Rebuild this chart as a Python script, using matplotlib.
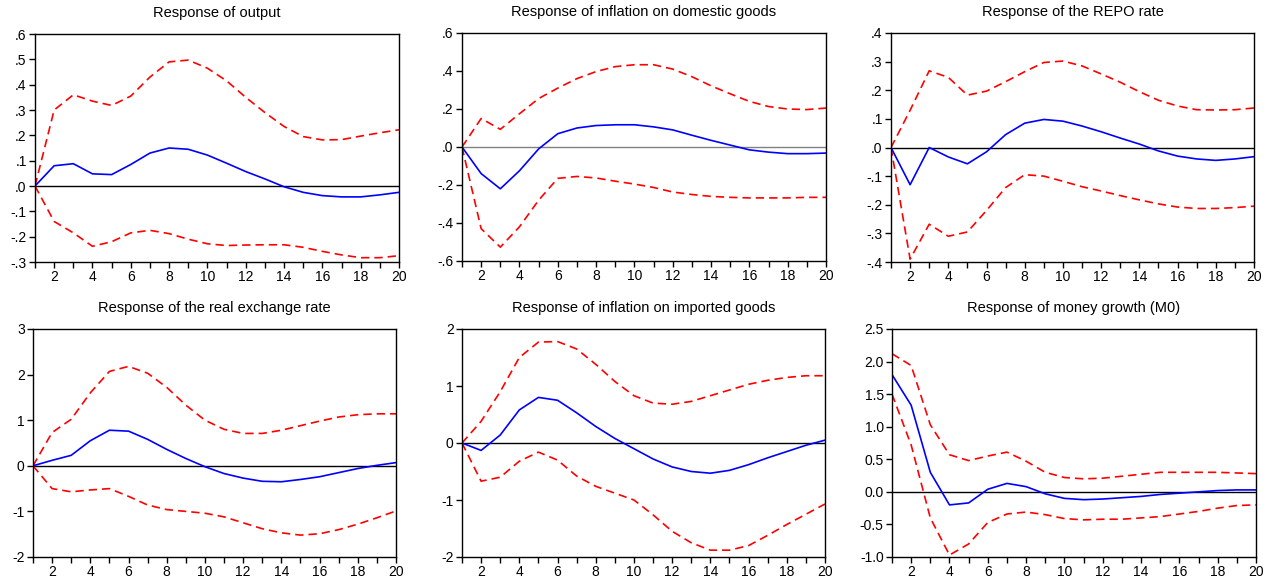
import matplotlib
matplotlib.use('Agg')
import matplotlib.pyplot as plt
from matplotlib.ticker import FuncFormatter, MultipleLocator

plt.rcParams['font.family'] = ['Liberation Sans', 'DejaVu Sans']

periods = list(range(1, 21))

# response of output
out_mid = [0, 0.08, 0.088, 0.048, 0.045, 0.085, 0.13, 0.15, 0.145, 0.122,
           0.09, 0.057, 0.028, -0.003, -0.025, -0.038, -0.043, -0.043, -0.035, -0.025]
out_hi = [0, 0.30, 0.36, 0.335, 0.318, 0.355, 0.43, 0.49, 0.497, 0.465,
          0.415, 0.35, 0.29, 0.235, 0.195, 0.182, 0.183, 0.197, 0.21, 0.222]
out_lo = [0, -0.14, -0.185, -0.238, -0.22, -0.185, -0.175, -0.188, -0.21, -0.228,
          -0.235, -0.233, -0.232, -0.232, -0.242, -0.258, -0.272, -0.283, -0.283, -0.275]

# response of inflation on domestic goods
dom_mid = [0, -0.14, -0.22, -0.125, -0.01, 0.07, 0.1, 0.113, 0.117, 0.117,
           0.106, 0.09, 0.062, 0.035, 0.01, -0.015, -0.027, -0.035, -0.035, -0.032]
dom_hi = [0, 0.15, 0.093, 0.175, 0.255, 0.31, 0.36, 0.397, 0.423, 0.433,
          0.433, 0.41, 0.37, 0.322, 0.28, 0.24, 0.213, 0.2, 0.197, 0.205]
dom_lo = [0, -0.43, -0.527, -0.42, -0.28, -0.165, -0.155, -0.163, -0.18, -0.195,
          -0.213, -0.237, -0.25, -0.26, -0.265, -0.268, -0.268, -0.268, -0.265, -0.265]

# response of the REPO rate
repo_mid = [0, -0.13, 0.0, -0.033, -0.057, -0.015, 0.045, 0.085, 0.098, 0.092,
            0.075, 0.055, 0.033, 0.012, -0.012, -0.03, -0.04, -0.045, -0.04, -0.032]
repo_hi = [0, 0.13, 0.268, 0.245, 0.183, 0.197, 0.23, 0.265, 0.297, 0.302,
           0.285, 0.257, 0.228, 0.195, 0.165, 0.145, 0.132, 0.131, 0.132, 0.138]
repo_lo = [0, -0.39, -0.268, -0.31, -0.295, -0.22, -0.14, -0.095, -0.1, -0.118,
           -0.137, -0.152, -0.168, -0.183, -0.197, -0.208, -0.213, -0.213, -0.21, -0.205]

# response of the real exchange rate
rer_mid = [0, 0.12, 0.23, 0.55, 0.78, 0.76, 0.58, 0.36, 0.16, -0.02,
           -0.17, -0.27, -0.34, -0.35, -0.3, -0.24, -0.15, -0.06, 0.01, 0.07]
rer_hi = [0, 0.73, 1.02, 1.6, 2.07, 2.18, 2.03, 1.72, 1.33, 1.0,
          0.8, 0.71, 0.71, 0.78, 0.88, 0.98, 1.07, 1.12, 1.14, 1.14]
rer_lo = [0, -0.5, -0.57, -0.53, -0.5, -0.67, -0.86, -0.96, -1.0, -1.04,
          -1.12, -1.25, -1.38, -1.47, -1.52, -1.49, -1.4, -1.28, -1.14, -0.99]

# response of inflation on imported goods
imp_mid = [0, -0.13, 0.14, 0.58, 0.8, 0.75, 0.53, 0.29, 0.08, -0.1,
           -0.28, -0.42, -0.5, -0.53, -0.48, -0.38, -0.26, -0.15, -0.04, 0.05]
imp_hi = [0, 0.38, 0.9, 1.5, 1.77, 1.78, 1.65, 1.38, 1.08, 0.83,
          0.7, 0.68, 0.73, 0.83, 0.93, 1.03, 1.1, 1.15, 1.18, 1.18]
imp_lo = [0, -0.67, -0.6, -0.32, -0.16, -0.3, -0.58, -0.76, -0.88, -1.0,
          -1.26, -1.55, -1.75, -1.88, -1.88, -1.8, -1.62, -1.43, -1.25, -1.07]

# response of money growth (M0)
m0_mid = [1.8, 1.33, 0.3, -0.2, -0.17, 0.04, 0.13, 0.08, -0.03, -0.1,
          -0.12, -0.11, -0.09, -0.07, -0.04, -0.02, 0.0, 0.02, 0.03, 0.03]
m0_hi = [2.12, 1.94, 1.03, 0.57, 0.48, 0.55, 0.61, 0.47, 0.3, 0.22,
         0.2, 0.21, 0.24, 0.27, 0.3, 0.3, 0.3, 0.3, 0.29, 0.28]
m0_lo = [1.5, 0.72, -0.4, -0.97, -0.8, -0.47, -0.34, -0.31, -0.35, -0.41,
         -0.43, -0.42, -0.42, -0.4, -0.38, -0.34, -0.3, -0.25, -0.21, -0.2]


def eviews_fmt(v, pos):
    # eviews style: .6, .0, -.2
    s = '%.1f' % v
    if s == '-0.0':
        s = '0.0'
    return s.replace('0.', '.', 1) if s.startswith(('0.', '-0.')) else s


W, H = 1277, 581
fig = plt.figure(figsize=(W / 100, H / 100), dpi=100)

# (title, mid, hi, lo, ylim, ystep, formatter, pixel box l, t, r, b)
panels = [
    ('Response of output', out_mid, out_hi, out_lo, (-0.3, 0.6), 0.1, FuncFormatter(eviews_fmt), (35, 34, 399, 262)),
    ('Response of inflation on domestic goods', dom_mid, dom_hi, dom_lo, (-0.6, 0.6), 0.2, FuncFormatter(eviews_fmt), (462, 33, 826, 261)),
    ('Response of the REPO rate', repo_mid, repo_hi, repo_lo, (-0.4, 0.4), 0.1, FuncFormatter(eviews_fmt), (891, 33, 1254, 262)),
    ('Response of the real exchange rate', rer_mid, rer_hi, rer_lo, (-2, 3), 1, FuncFormatter(lambda v, p: '%d' % round(v)), (33, 329, 396, 557)),
    ('Response of inflation on imported goods', imp_mid, imp_hi, imp_lo, (-2, 2), 1, FuncFormatter(lambda v, p: '%d' % round(v)), (462, 329, 825, 557)),
    ('Response of money growth (M0)', m0_mid, m0_hi, m0_lo, (-1.0, 2.5), 0.5, FuncFormatter(lambda v, p: '%.1f' % v), (892, 329, 1256, 557)),
]

for i, (title, mid, hi, lo, ylim, ystep, fmt, box) in enumerate(panels):
    l, t, r, b = box
    ax = fig.add_axes([l / W, 1 - b / H, (r - l) / W, (b - t) / H])
    zc = '#808080' if i == 1 else 'black'
    ax.axhline(0, color=zc, lw=1.0, zorder=1)
    ax.plot(periods, hi, color='red', ls=(0, (5, 3)), lw=1.2)
    ax.plot(periods, lo, color='red', ls=(0, (5, 3)), lw=1.2)
    ax.plot(periods, mid, color='blue', lw=1.2)
    ax.set_xlim(1, 20)
    ax.set_ylim(*ylim)
    ax.xaxis.set_major_locator(MultipleLocator(2))
    ax.xaxis.set_minor_locator(MultipleLocator(1))
    ax.yaxis.set_major_locator(MultipleLocator(ystep))
    ax.yaxis.set_major_formatter(fmt)
    ax.tick_params(axis='both', which='both', direction='out', labelsize=10, width=1, colors='black')
    ax.tick_params(axis='both', which='major', length=4, pad=2)
    ax.tick_params(axis='x', which='minor', length=4)
    for s in ax.spines.values():
        s.set_linewidth(1.0)
    ax.set_title(title, fontsize=10.5, pad=12)

fig.savefig('out.png', dpi=100)
